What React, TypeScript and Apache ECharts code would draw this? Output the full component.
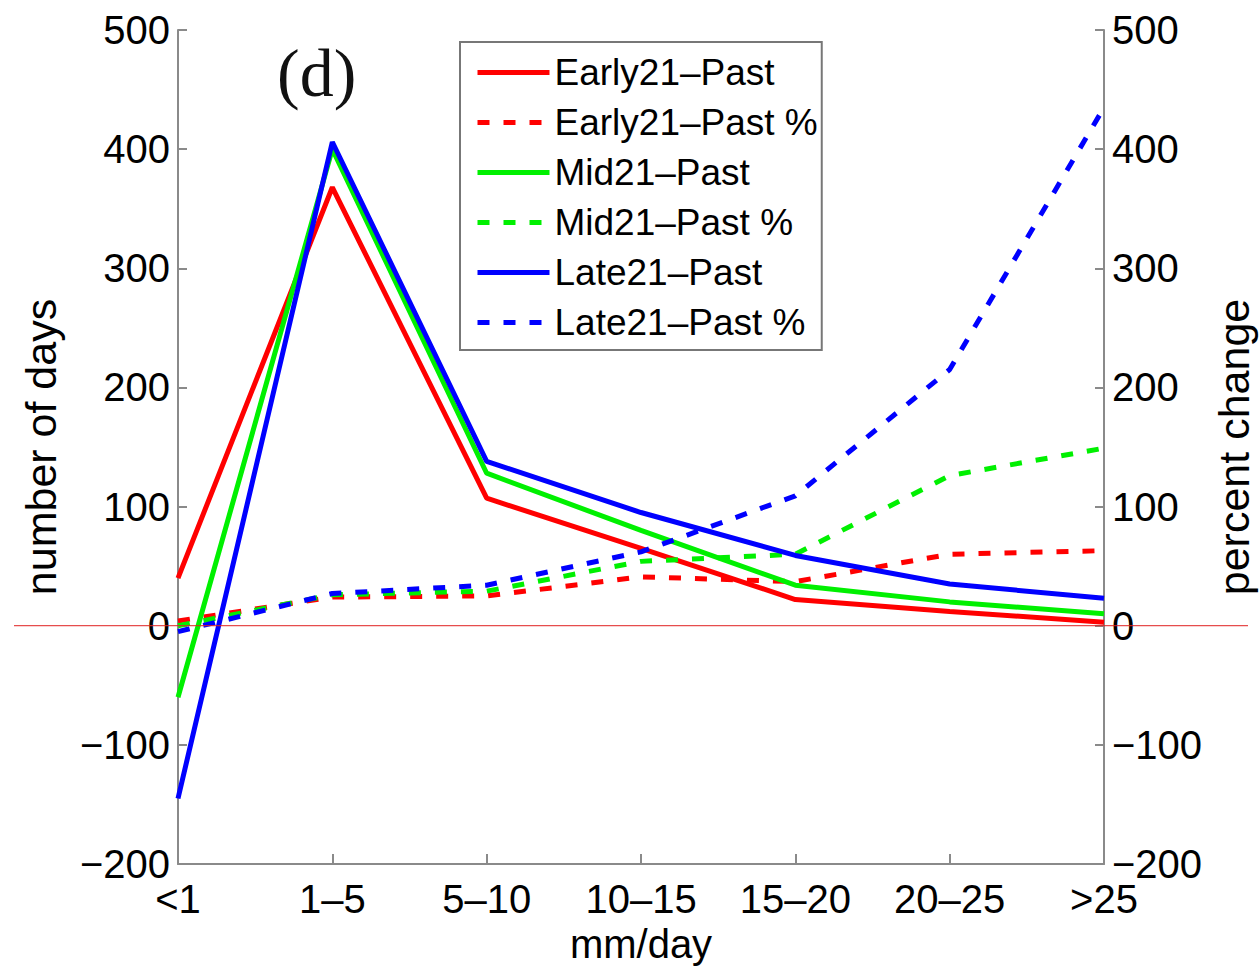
import React, { useEffect, useRef } from "react";
import * as echarts from "echarts";

const categories = ["<1", "1–5", "5–10", "10–15", "15–20", "20–25", ">25"];
const early = [40, 368, 107, 65, 22, 12, 3];
const mid = [-60, 400, 128, 80, 34, 20, 10];
const late = [-145, 406, 138, 95, 59, 35, 23];
const earlyPct = [4, 24, 25, 41, 37, 60, 63];
const midPct = [0, 26, 29, 54, 60, 126, 149];
const latePct = [-5, 27, 34, 62, 109, 215, 435];
const seriesNames = [
  "Early21–Past",
  "Early21–Past %",
  "Mid21–Past",
  "Mid21–Past %",
  "Late21–Past",
  "Late21–Past %",
];

const FONT = "'Liberation Sans', Arial, Helvetica, sans-serif";

export default function App() {
  const ref = useRef<HTMLDivElement>(null);
  useEffect(() => {
    if (!ref.current) return;
    document.body.style.overflow = "hidden";
    const chart = echarts.init(ref.current, undefined, { renderer: "svg", width: 1259, height: 969 });
    const fmt = (v: number) => String(v).replace("-", "−");
    const mkAxis = (pos: "left" | "right", name: string, gap: number) => ({
      type: "value",
      position: pos,
      min: -200,
      max: 500,
      interval: 100,
      name,
      nameLocation: "middle",
      nameRotate: 90,
      nameGap: gap,
      nameTextStyle: { fontFamily: FONT, fontSize: 43, color: "#000" },
      axisLine: { show: true, lineStyle: { color: "#8a8a8a", width: 2 } },
      axisTick: { show: true, inside: true, length: 9, lineStyle: { color: "#8a8a8a", width: 2 } },
      axisLabel: { fontFamily: FONT, fontSize: 40, color: "#000", margin: 8, formatter: fmt },
      splitLine: { show: false },
    });
    const colors = ["#ff0000", "#ff0000", "#00f000", "#00f000", "#0000ff", "#0000ff"];
    const datas = [early, earlyPct, mid, midPct, late, latePct];
    chart.setOption({
      animation: false,
      backgroundColor: "#fff",
      title: {
        text: "(d)",
        left: 272,
        top: 34,
        textStyle: { fontFamily: "'Liberation Serif', 'DejaVu Serif', serif", fontSize: 68, fontWeight: "normal", color: "#111" },
      },
      legend: {
        orient: "vertical",
        left: 460,
        top: 42,
        padding: [12, 4, 9, 15],
        itemGap: 13,
        itemWidth: 72,
        itemHeight: 20,
        selectedMode: false,
        backgroundColor: "#fff",
        borderColor: "#777",
        borderWidth: 2,
        itemStyle: { opacity: 0 },
        lineStyle: { width: 5 },
        data: seriesNames,
        textStyle: { fontFamily: FONT, fontSize: 37, lineHeight: 37, color: "#000" },
      },
      grid: { left: 178, right: 155, top: 30, bottom: 105, containLabel: false, outerBoundsMode: "none" },
      xAxis: {
        type: "category",
        data: categories,
        boundaryGap: false,
        name: "mm/day",
        nameLocation: "middle",
        nameGap: 60,
        nameTextStyle: { fontFamily: FONT, fontSize: 40, color: "#000" },
        axisLine: { show: true, onZero: false, lineStyle: { color: "#8a8a8a", width: 2 } },
        axisTick: { show: true, inside: true, length: 10, alignWithLabel: true, lineStyle: { color: "#8a8a8a", width: 2 } },
        axisLabel: { fontFamily: FONT, fontSize: 40, color: "#000", margin: 15, interval: 0 },
        splitLine: { show: false },
      },
      yAxis: [mkAxis("left", "number of days", 116), mkAxis("right", "percent change", 94)],
      series: seriesNames.map((n, i) => ({
        name: n,
        type: "line",
        yAxisIndex: i % 2,
        data: datas[i],
        symbol: "none",
        lineStyle: {
          color: colors[i],
          width: 5,
          type: i % 2 === 1 ? [12, 14] : "solid",
        },
        itemStyle: { color: colors[i] },
      })),
    });
    const y0 = chart.convertToPixel({ yAxisIndex: 0 }, 0) as number;
    chart.setOption({
      graphic: [
        {
          type: "line",
          z: 100,
          shape: { x1: 14, y1: y0, x2: 1248, y2: y0 },
          style: { stroke: "#e02020", lineWidth: 1 },
        },
      ],
    });
    return () => chart.dispose();
  }, []);
  return (
    <div
      ref={ref}
      style={{ position: "absolute", left: 0, top: 0, width: 1259, height: 969 }}
    />
  );
}
